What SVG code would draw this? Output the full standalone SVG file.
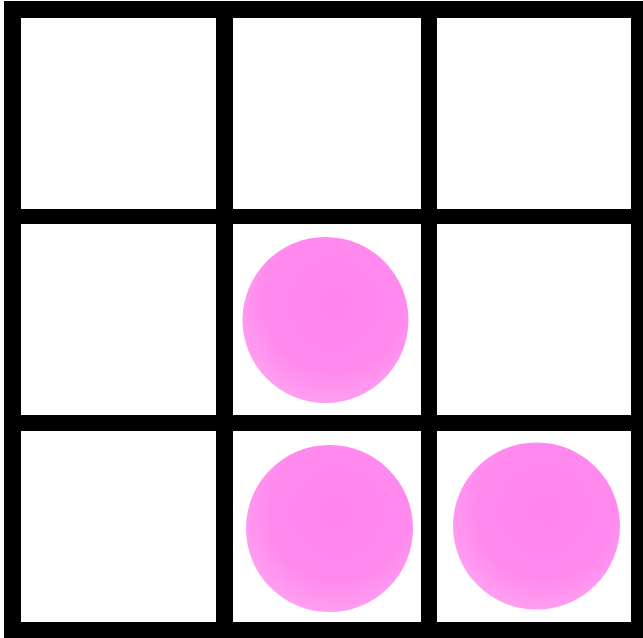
<svg xmlns="http://www.w3.org/2000/svg" width="643" height="638" viewBox="0 0 643 638">
<defs>
<radialGradient id="pink" cx="0.55" cy="0.4" r="0.6">
<stop offset="0" stop-color="#ff84ee"/>
<stop offset="0.7" stop-color="#ff8aee"/>
<stop offset="1" stop-color="#ff9ef1"/>
</radialGradient>
<style>
.bar{fill:#000}
.ball{fill:url(#pink)}
</style>
</defs>
<rect x="0" y="0" width="643" height="638" fill="#fff"/>
<g id="grid">
<rect class="bar" x="4" y="1" width="639" height="17"/>
<rect class="bar" x="4" y="209" width="639" height="15"/>
<rect class="bar" x="4" y="415" width="639" height="16"/>
<rect class="bar" x="4" y="622" width="639" height="16"/>
<rect class="bar" x="4" y="1" width="17" height="637"/>
<rect class="bar" x="216" y="1" width="17" height="637"/>
<rect class="bar" x="421" y="1" width="16" height="637"/>
<rect class="bar" x="631" y="1" width="12" height="637"/>
</g>
<g id="ball-center">
<circle class="ball" cx="325.5" cy="320" r="83"/>
</g>
<g id="ball-bottom-middle">
<circle class="ball" cx="329.5" cy="528.5" r="83.5"/>
</g>
<g id="ball-bottom-right">
<circle class="ball" cx="536.5" cy="526" r="83.5"/>
</g>
<g id="connectors"/>
</svg>
